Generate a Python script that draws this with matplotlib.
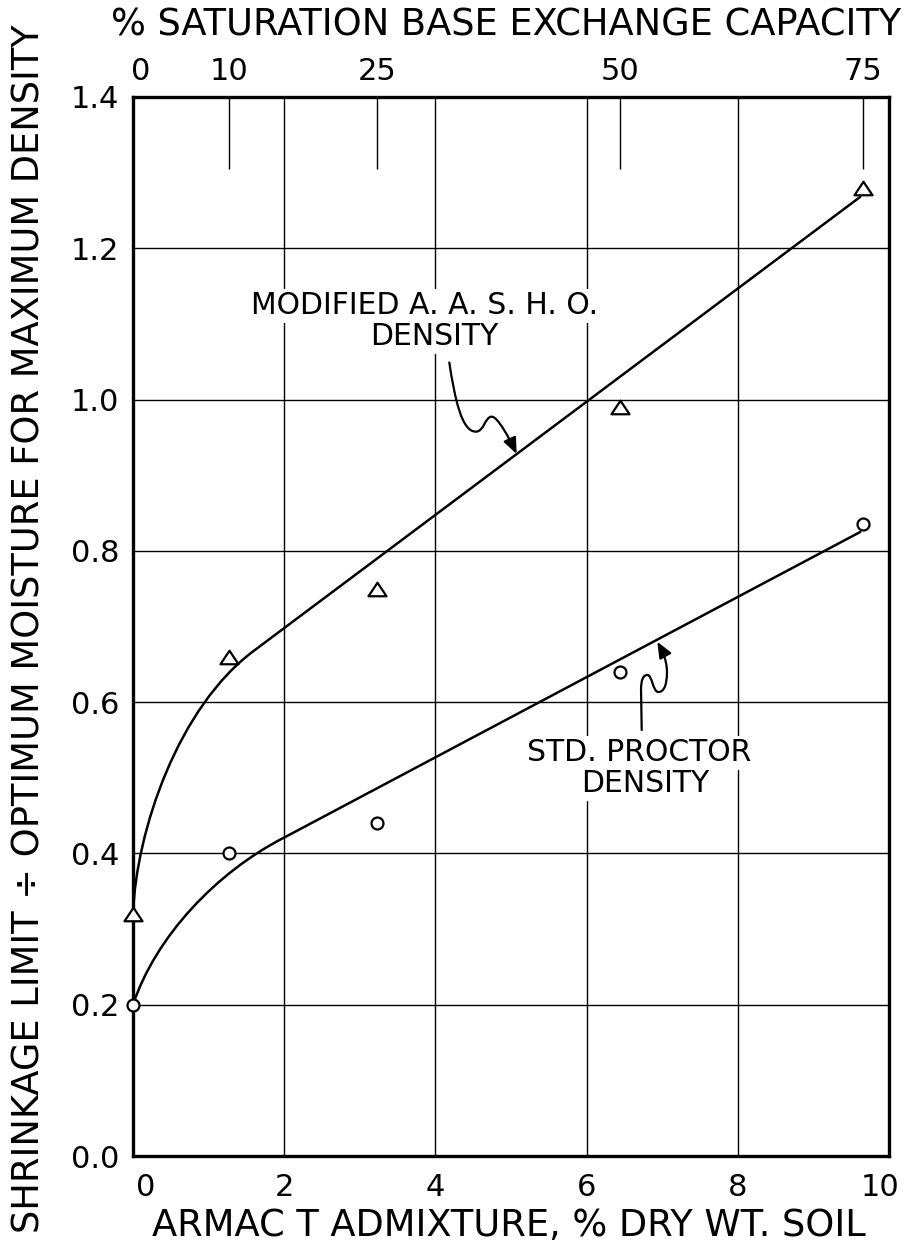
import matplotlib
matplotlib.use("Agg")
import matplotlib.pyplot as plt
from matplotlib.path import Path
from matplotlib.patches import PathPatch, FancyArrowPatch, ArrowStyle
import matplotlib.transforms as mtransforms

# Armac T admixture (% dry weight of soil) of each test series
armac = [0.0, 1.27, 3.23, 6.44, 9.66]
# corresponding % saturation of the base exchange capacity
saturation = [0, 10, 25, 50, 75]

# shrinkage limit / optimum moisture for maximum density
modified_ratio = [0.32, 0.66, 0.75, 0.99, 1.28]
proctor_ratio = [0.20, 0.40, 0.44, 0.64, 0.835]

# faired curves: cubic knee (start, two control points, end) then straight run
modified_curve_x = [0.0, 0.04, 0.6, 1.6, 9.62]
modified_curve_y = [0.32, 0.43, 0.594, 0.668, 1.268]
proctor_curve_x = [0.0, 0.3, 1.1, 2.0, 9.62]
proctor_curve_y = [0.20, 0.29, 0.375, 0.421, 0.825]

x_ticks = [0, 2, 4, 6, 8, 10]
y_ticks = [0.0, 0.2, 0.4, 0.6, 0.8, 1.0, 1.2, 1.4]

W, H = 913, 1248
fig = plt.figure(figsize=(W / 100, H / 100), dpi=100)
fig.patch.set_facecolor("white")
plt.rcParams["font.family"] = ["DejaVu Sans"]

ax = fig.add_axes([133 / W, 92 / H, 756 / W, 1059 / H])
ax.set_xlim(0, 10)
ax.set_ylim(0, 1.4)
ax.set_axisbelow(True)

# frame and grid
for sp in ax.spines.values():
    sp.set_linewidth(2.4)
    sp.set_color("black")
ax.set_xticks(x_ticks)
ax.set_yticks(y_ticks)
ax.set_xticklabels([str(v) for v in x_ticks])
ax.set_yticklabels([f"{v:.1f}" for v in y_ticks])
ax.grid(True, color="black", linewidth=1.0)
ax.tick_params(axis="both", length=0, labelsize=22, colors="black")
ax.tick_params(axis="x", pad=12)
ax.tick_params(axis="y", pad=10)

# secondary scale on top: % saturation of base exchange capacity
top = ax.twiny()
top.set_xlim(ax.get_xlim())
top.set_xticks(armac)
top.set_xticklabels([str(s) for s in saturation])
top.tick_params(axis="x", direction="in", length=52, width=1.0,
                labelsize=22, pad=8, colors="black")
for sp in top.spines.values():
    sp.set_visible(False)

# nudge the end labels off the frame
def shift(label, dx_px):
    label.set_transform(label.get_transform() +
                        mtransforms.ScaledTranslation(dx_px / 100, 0, fig.dpi_scale_trans))

xt = ax.xaxis.get_major_ticks()
shift(xt[0].label1, 13)
shift(xt[-1].label1, -9)
tt = top.xaxis.get_major_ticks()
shift(tt[0].label2, 8)

# faired curves
def curve(xs, ys):
    verts = list(zip(xs, ys))
    codes = [Path.MOVETO, Path.CURVE4, Path.CURVE4, Path.CURVE4, Path.LINETO]
    return PathPatch(Path(verts, codes), fill=False, edgecolor="black",
                     linewidth=1.8, transform=ax.transData, zorder=4,
                     capstyle="round", joinstyle="round")

ax.add_patch(curve(modified_curve_x, modified_curve_y))
ax.add_patch(curve(proctor_curve_x, proctor_curve_y))

# test points
tri = Path([(0, 0.75), (-1, -0.75), (1, -0.75), (0, 0.75)], closed=True)
ax.plot(armac, modified_ratio, linestyle="none", marker=tri, markersize=13,
        markerfacecolor="white", markeredgecolor="black", markeredgewidth=1.6,
        clip_on=False, zorder=6)
ax.plot(armac, proctor_ratio, linestyle="none", marker="o", markersize=8.6,
        markerfacecolor="white", markeredgecolor="black", markeredgewidth=1.6,
        clip_on=False, zorder=6)

# curve labels
box = dict(facecolor="white", edgecolor="none", pad=2)
ax.text(3.86, 1.124, "MODIFIED A. A. S. H. O.", ha="center", va="center",
        fontsize=21.5, bbox=box, zorder=3)
ax.text(3.99, 1.083, "DENSITY", ha="center", va="center",
        fontsize=21.5, bbox=box, zorder=3)
ax.text(6.69, 0.533, "STD. PROCTOR", ha="center", va="center",
        fontsize=21.5, bbox=box, zorder=3)
ax.text(6.77, 0.492, "DENSITY", ha="center", va="center",
        fontsize=21.5, bbox=box, zorder=3)

# squiggle leaders
head = ArrowStyle("-|>", head_length=0.6, head_width=0.25)
mod_leader = Path(
    [(4.184, 1.049), (4.259, 0.9995), (4.352, 0.957), (4.537, 0.9576),
     (4.643, 0.9576), (4.656, 0.9774), (4.745, 0.9774),
     (4.828, 0.9774), (4.989, 0.9466), (5.075, 0.9281)],
    [Path.MOVETO, Path.CURVE4, Path.CURVE4, Path.CURVE4,
     Path.CURVE4, Path.CURVE4, Path.CURVE4,
     Path.CURVE4, Path.CURVE4, Path.CURVE4])
ax.add_patch(FancyArrowPatch(path=mod_leader, arrowstyle=head, mutation_scale=16,
                             color="black", linewidth=1.6, transform=ax.transData,
                             zorder=5))
std_leader = Path(
    [(6.729, 0.5632), (6.720, 0.6161),
     (6.720, 0.6293), (6.746, 0.6359), (6.806, 0.6359),
     (6.865, 0.6359), (6.878, 0.6134), (6.948, 0.6134),
     (7.024, 0.6134), (7.063, 0.6227), (7.063, 0.6399),
     (7.063, 0.6557), (6.997, 0.6689), (6.935, 0.6799)],
    [Path.MOVETO, Path.LINETO,
     Path.CURVE4, Path.CURVE4, Path.CURVE4,
     Path.CURVE4, Path.CURVE4, Path.CURVE4,
     Path.CURVE4, Path.CURVE4, Path.CURVE4,
     Path.CURVE4, Path.CURVE4, Path.CURVE4])
ax.add_patch(FancyArrowPatch(path=std_leader, arrowstyle=head, mutation_scale=16,
                             color="black", linewidth=1.6, transform=ax.transData,
                             zorder=5))

# axis titles
fig.text(506 / W, 1 - 25 / H, "% SATURATION BASE EXCHANGE CAPACITY",
         ha="center", va="center", fontsize=26.5)
fig.text(509 / W, 1 - 1225 / H, "ARMAC T ADMIXTURE, % DRY WT. SOIL",
         ha="center", va="center", fontsize=26.5)
fig.text(29 / W, 1 - 629 / H,
         "SHRINKAGE LIMIT \u00f7 OPTIMUM MOISTURE FOR MAXIMUM DENSITY",
         ha="center", va="center", rotation=90, fontsize=26.5)

fig.savefig("out.png", dpi=100, facecolor="white")
